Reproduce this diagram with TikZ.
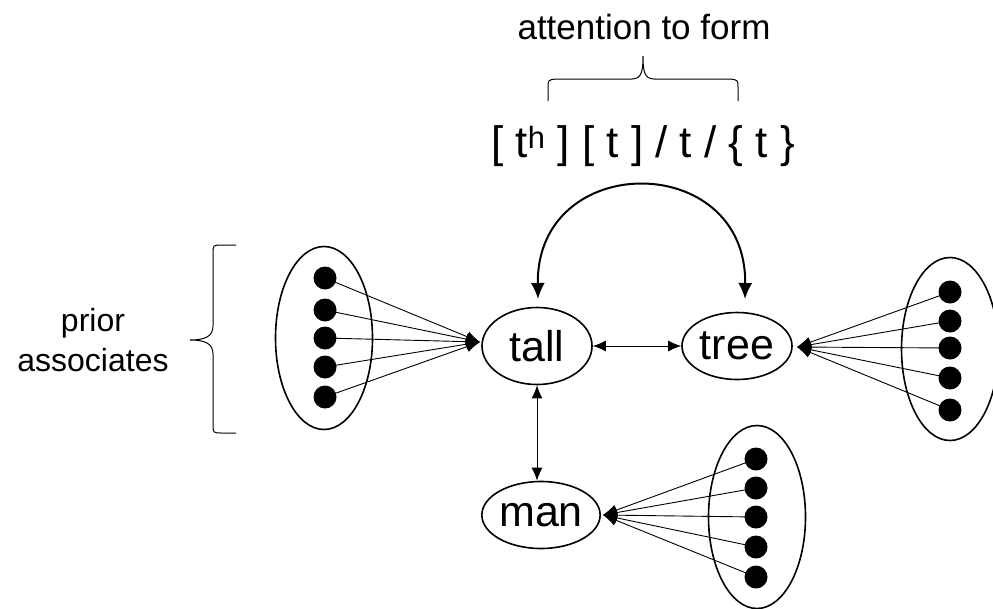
\documentclass[tikz,border=0pt]{standalone}
\usepackage{fontspec}
\setmainfont{Liberation Sans}
\usetikzlibrary{arrows.meta,shapes.geometric}
\begin{document}
\begin{tikzpicture}[x=1pt,y=-1pt,
  word/.style={draw,ellipse,line width=1.6pt,inner sep=0pt,minimum width=110pt,minimum height=67pt,font=\fontsize{43}{43}\selectfont},
  grp/.style={draw,ellipse,line width=1.6pt,inner sep=0pt,minimum width=97pt,minimum height=183pt},
  dotn/.style={circle,fill=black,inner sep=0pt,minimum size=23pt},
  fan/.style={line width=0.9pt,-{Latex[length=14pt,width=11pt]}},
  link/.style={line width=1pt,{Latex[length=13pt,width=11pt]}-{Latex[length=13pt,width=11pt]}},
  bigarc/.style={line width=2pt,{Latex[length=16pt,width=14pt]}-{Latex[length=16pt,width=14pt]}},
  bracestyle/.style={line width=1pt}
]
\useasboundingbox (0,0) rectangle (993,608);

% text
\node[font=\fontsize{35}{35}\selectfont] (att) at (644,27) {attention to form};
\node[font=\fontsize{44}{44}\selectfont] (phon) at (643,146) {[ t\textsuperscript{h} ] [ t ] / t / \{ t \}};
\node[font=\fontsize{32}{40}\selectfont,align=center,inner sep=0pt] (prior) at (93,340) {prior\\associates};

% braces
\draw[bracestyle] (548,101) -- (548,88) .. controls (548,80) .. (556,79) -- (632,79)
  .. controls (642,79) and (643,70) .. (643,56)
  .. controls (643,70) and (644,79) .. (654,79) -- (730,79)
  .. controls (738,80) .. (738,88) -- (738,101);
\draw[bracestyle] (236,245) -- (222,245) .. controls (213,245) .. (213,254) -- (213,326)
  .. controls (213,337) and (204,340) .. (190,340)
  .. controls (204,340) and (213,343) .. (213,354) -- (213,424)
  .. controls (213,433) .. (222,433) -- (236,433);

% word nodes
\node[word,minimum height=77pt] (tall) at (537,346) {tall};
\node[word] (tree) at (737,346) {tree};
\node[word] (man) at (541,515) {man};

% groups
\node[grp] (gL) at (324,338) {};
\node[grp] (gR) at (950,349) {};
\node[grp] (gM) at (757,517) {};

\coordinate (tL) at (480,342);
\coordinate (tR) at (797,347);
\coordinate (tM) at (603,515);

\foreach \i/\y in {1/278,2/310,3/338,4/367,5/397}{
  \node[dotn] (l\i) at (325,\y) {};
  \draw[fan] (l\i.center) -- (tL);
}
\foreach \i/\y in {1/292,2/321,3/348,4/378,5/410}{
  \node[dotn] (r\i) at (950,\y) {};
  \draw[fan] (r\i.center) -- (tR);
}
\foreach \i/\y in {1/459,2/488,3/517,4/547,5/577}{
  \node[dotn] (m\i) at (756,\y) {};
  \draw[fan] (m\i.center) -- (tM);
}

% links
\draw[link] (tall) -- (tree);
\draw[link] (tall.south) -- (tall.south |- man.north);
\coordinate (a1) at (538,299);
\coordinate (a2) at (745,299);
\draw[bigarc] (a1) .. controls (536,150) and (747,150) .. (a2);
\end{tikzpicture}
\end{document}
